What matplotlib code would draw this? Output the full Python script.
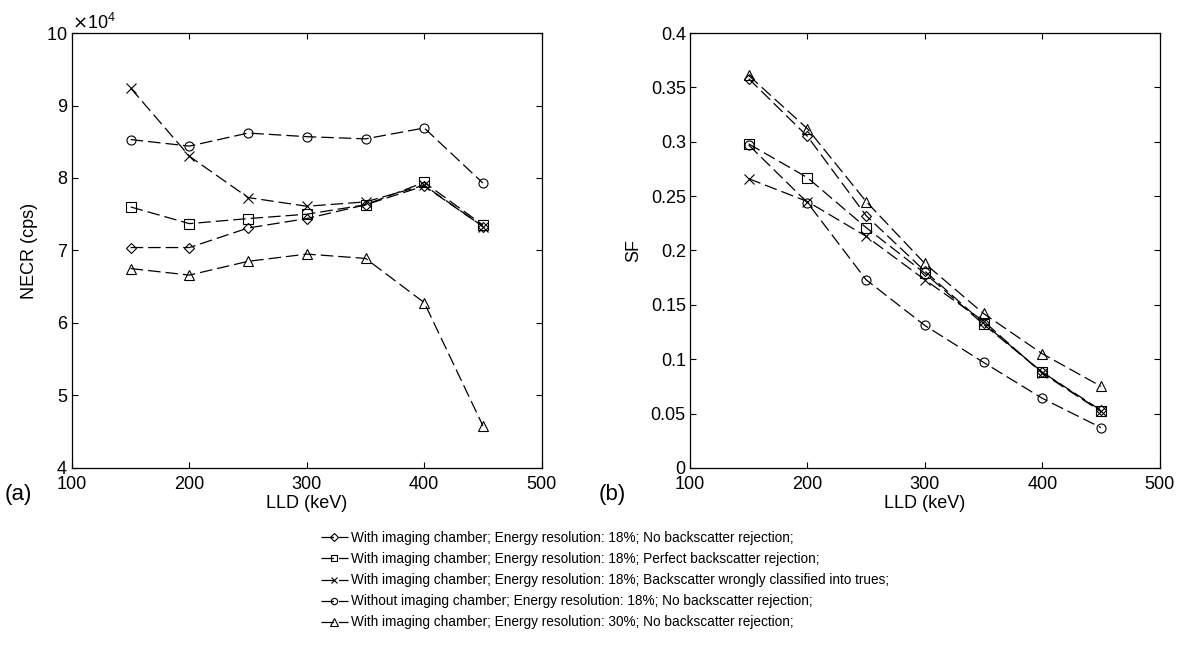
import numpy as np
import matplotlib
matplotlib.use("Agg")
import matplotlib.pyplot as plt
from matplotlib import ticker

# --- data ---
lld = [150, 200, 250, 300, 350, 400, 450]

labels = [
    "With imaging chamber; Energy resolution: 18%; No backscatter rejection;",
    "With imaging chamber; Energy resolution: 18%; Perfect backscatter rejection;",
    "With imaging chamber; Energy resolution: 18%; Backscatter wrongly classified into trues;",
    "Without imaging chamber; Energy resolution: 18%; No backscatter rejection;",
    "With imaging chamber; Energy resolution: 30%; No backscatter rejection;",
]
markers = ["D", "s", "x", "o", "^"]

# NECR (cps)
necr_diamond = [70400, 70400, 73100, 74400, 76300, 78900, 73300]
necr_square = [76000, 73700, 74400, 75000, 76300, 79400, 73500]
necr_cross = [92400, 83000, 77300, 76100, 76700, 79000, 73300]
necr_circle = [85300, 84400, 86200, 85700, 85400, 86900, 79300]
necr_triangle = [67500, 66600, 68500, 69500, 68900, 62800, 45800]

# scatter fraction
sf_diamond = [0.358, 0.305, 0.232, 0.181, 0.133, 0.088, 0.053]
sf_square = [0.298, 0.267, 0.221, 0.179, 0.132, 0.088, 0.052]
sf_cross = [0.266, 0.245, 0.213, 0.173, 0.135, 0.087, 0.052]
sf_circle = [0.297, 0.244, 0.173, 0.131, 0.097, 0.064, 0.037]
sf_triangle = [0.361, 0.312, 0.245, 0.188, 0.142, 0.105, 0.075]

necr_all = [necr_diamond, necr_square, necr_cross, necr_circle, necr_triangle]
sf_all = [sf_diamond, sf_square, sf_cross, sf_circle, sf_triangle]

plt.rcParams['font.family'] = ['Liberation Sans', 'DejaVu Sans']
plt.rcParams['xtick.direction'] = 'in'
plt.rcParams['ytick.direction'] = 'in'
plt.rcParams['xtick.top'] = True
plt.rcParams['ytick.right'] = True

fig = plt.figure(figsize=(11.86, 6.48), dpi=100)
ax1 = fig.add_axes([0.0607, 0.278, 0.396, 0.671])
ax2 = fig.add_axes([0.5818, 0.278, 0.396, 0.671])


def draw(ax, series):
    handles = []
    for vals, mk, lab in zip(series, markers, labels):
        ms = 5.5 if mk == "D" else (7.5 if mk == "^" else 6.5)
        h, = ax.plot(lld, vals, color='black', lw=0.9, linestyle=(0, (10, 4)),
                     marker=mk, markersize=ms, markerfacecolor='none',
                     markeredgecolor='black', markeredgewidth=0.8, label=lab)
        handles.append(h)
    ax.set_xlim(100, 500)
    ax.set_xticks([100, 200, 300, 400, 500])
    ax.tick_params(labelsize=13, length=4, width=0.8, pad=3)
    ax.tick_params(axis='x', pad=6)
    for sp in ax.spines.values():
        sp.set_linewidth(0.9)
    ax.set_xlabel("LLD (keV)", fontsize=13, labelpad=1)
    return handles


handles = draw(ax1, necr_all)
ax1.set_ylim(40000, 100000)
ax1.set_yticks(np.arange(40000, 100001, 10000))
fmt = ticker.ScalarFormatter(useMathText=True)
fmt.set_powerlimits((4, 4))
ax1.yaxis.set_major_formatter(fmt)
ax1.yaxis.get_offset_text().set_fontsize(13)
ax1.set_ylabel("NECR (cps)", fontsize=13, labelpad=6)

draw(ax2, sf_all)
ax2.set_ylim(0, 0.4)
ax2.set_yticks(np.arange(0, 0.401, 0.05))
ax2.yaxis.set_major_formatter(ticker.FuncFormatter(lambda v, p: f"{v:g}"))
ax2.set_ylabel("SF", fontsize=13, labelpad=6)

fig.text(0.004, 0.228, "(a)", fontsize=16)
fig.text(0.505, 0.228, "(b)", fontsize=16)

fig.legend(handles=handles, loc='upper center', bbox_to_anchor=(0.51, 0.195),
           frameon=False, fontsize=9.8, handlelength=2.0, handletextpad=0.2,
           labelspacing=0.52, markerscale=0.7, borderpad=0.2)

fig.savefig("out.png", dpi=100)
